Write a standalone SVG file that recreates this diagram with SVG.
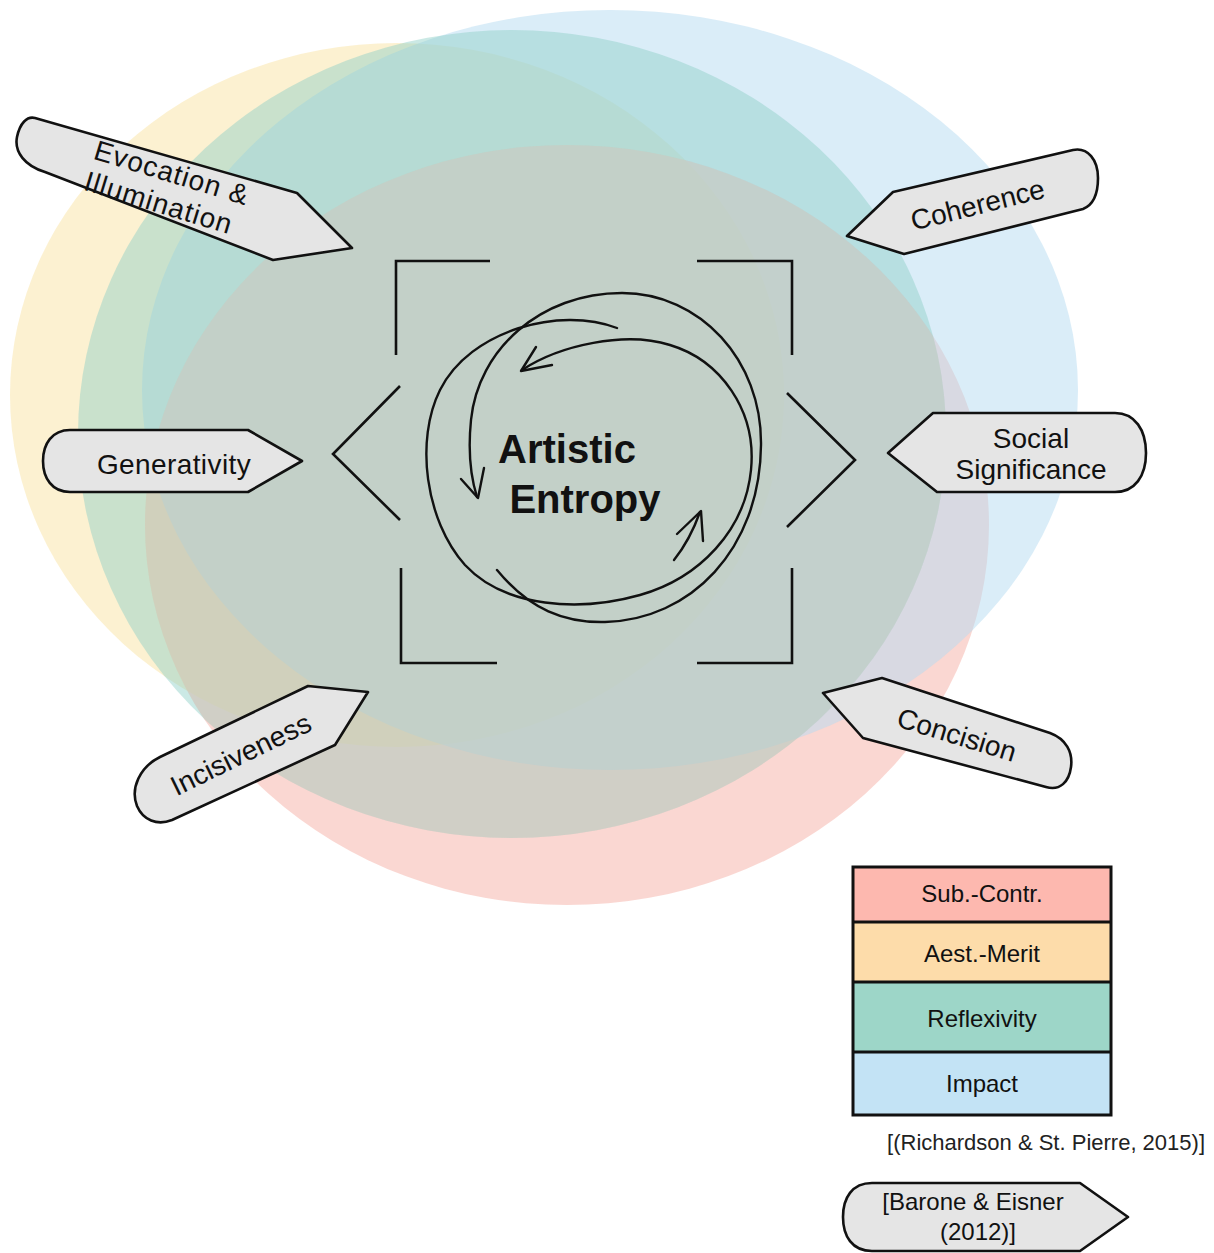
<svg xmlns="http://www.w3.org/2000/svg" width="1214" height="1253" viewBox="0 0 1214 1253">
<defs>
<style>
.node{fill:#e5e5e5;stroke:#111;stroke-width:2.6;stroke-linejoin:round}
.lbl{font-family:"Liberation Sans",Arial,sans-serif;font-size:28px;fill:#111;text-anchor:middle}
.leg{font-family:"Liberation Sans",Arial,sans-serif;font-size:24px;fill:#111;text-anchor:middle}
.ln{fill:none;stroke:#111;stroke-width:2.6;stroke-linecap:butt;stroke-linejoin:miter}
.cyc{fill:none;stroke:#111;stroke-width:2.4;stroke-linecap:round;stroke-linejoin:round}
</style>
<clipPath id="tealClip"><ellipse cx="512" cy="434" rx="434" ry="404"/></clipPath>
</defs>
<rect width="1214" height="1253" fill="#ffffff"/>
<g id="venn">
<ellipse id="sub-contr" cx="567" cy="525" rx="422" ry="380" fill="#f4a79b" fill-opacity="0.45"/>
<ellipse id="aest-merit" cx="397" cy="395" rx="387" ry="352" fill="#f9df9a" fill-opacity="0.45"/>
<ellipse id="impact" cx="610" cy="390" rx="468" ry="380" fill="#b5dbf2" fill-opacity="0.5"/>
<ellipse id="reflexivity" cx="512" cy="434" rx="434" ry="404" fill="#8ccfc6" fill-opacity="0.45"/>
<ellipse cx="567" cy="525" rx="422" ry="380" fill="#e6c6bb" fill-opacity="0.3" clip-path="url(#tealClip)"/>
</g>
<g id="center">
<path class="ln" d="M396,355 V261 H490"/>
<path class="ln" d="M697,261 H792 V355"/>
<path class="ln" d="M401,568 V663 H497"/>
<path class="ln" d="M697,663 H792 V568"/>
<path class="ln" d="M400,386 L333,454 L400,520"/>
<path class="ln" d="M787,393 L855,460 L787,527"/>
<path class="cyc" d="M617,328 C560,306 470,330 440,390 C415,440 425,520 465,565 C505,608 580,612 640,595 C700,578 745,530 751,470 C757,410 720,360 670,345 C625,331 560,345 522,370"/>
<path class="cyc" d="M536,347 L521,371 L552,365"/>
<path class="cyc" d="M497,570 C530,610 565,623 605,622 C690,620 760,550 761,445 C762,360 700,293 622,293 C540,293 478,350 471,420 C468,450 470,475 477,497"/>
<path class="cyc" d="M461,479 L478,498 L484,468"/>
<path class="cyc" d="M674,560 Q690,540 700,512"/>
<path class="cyc" d="M677,534 L701,511 L703,541"/>
<text x="567" y="463" font-family="Liberation Sans,Arial,sans-serif" font-size="40" font-weight="bold" fill="#111" text-anchor="middle">Artistic</text>
<text x="585" y="513" font-family="Liberation Sans,Arial,sans-serif" font-size="40" font-weight="bold" fill="#111" text-anchor="middle">Entropy</text>
</g>
<g id="evocation">
<path class="node" d="M35,118 L297,193 L352,248 L273,260 L45,172 C25,166 14,152 17,137 C20,123 27,116 35,118 Z"/>
<text class="lbl" x="169" y="182" font-size="26" letter-spacing="1" transform="rotate(17 169 182)">Evocation &amp;</text>
<text class="lbl" x="156" y="212" font-size="26" letter-spacing="1" transform="rotate(17 156 212)">Illumination</text>
</g>
<g id="generativity">
<path class="node" d="M70,430 L248,430 L302,461 L248,492 L70,492 C52,492 43,478 43,461 C43,444 52,430 70,430 Z"/>
<text class="lbl" x="174" y="474" letter-spacing="0.4">Generativity</text>
</g>
<g id="incisiveness">
<path class="node" d="M368,692 L308,686 L160,757 C140,767 130,788 137,806 C143,820 157,826 172,820 L335,745 Z"/>
<text class="lbl" x="245" y="763" transform="rotate(-26 245 763)">Incisiveness</text>
</g>
<g id="coherence">
<path class="node" d="M847,236 L893,192 L1073,150 C1088,147 1098,160 1098,178 C1098,195 1093,205 1083,209 L904,254 Z"/>
<text class="lbl" x="980" y="214" transform="rotate(-14 980 214)">Coherence</text>
</g>
<g id="social-significance">
<path class="node" d="M888,453 L933,413 L1115,413 C1135,413 1146,430 1146,453 C1146,476 1135,492 1115,492 L937,492 Z"/>
<text class="lbl" x="1031" y="448">Social</text>
<text class="lbl" x="1031" y="479">Significance</text>
</g>
<g id="concision">
<path class="node" d="M823,693 L882,678 L1050,733 C1066,739 1073,752 1071,767 C1069,782 1060,791 1046,787 L863,738 Z"/>
<text class="lbl" x="954" y="744" transform="rotate(17 954 744)">Concision</text>
</g>
<g id="legend">
<rect x="853" y="867" width="258" height="55" fill="#fdb8af"/>
<rect x="853" y="922" width="258" height="60" fill="#fddcaa"/>
<rect x="853" y="982" width="258" height="70" fill="#9dd6c8"/>
<rect x="853" y="1052" width="258" height="63" fill="#c3e3f5"/>
<path d="M853,867 H1111 V1115 H853 Z M853,922 H1111 M853,982 H1111 M853,1052 H1111" fill="none" stroke="#111" stroke-width="3"/>
<text class="leg" x="982" y="902">Sub.-Contr.</text>
<text class="leg" x="982" y="962">Aest.-Merit</text>
<text class="leg" x="982" y="1027">Reflexivity</text>
<text class="leg" x="982" y="1092">Impact</text>
</g>
<g id="citation">
<text x="1205" y="1150" font-family="Liberation Sans,Arial,sans-serif" font-size="22" fill="#222" text-anchor="end">[(Richardson &amp; St. Pierre, 2015)]</text>
</g>
<g id="barone">
<path class="node" d="M872,1183 L1080,1183 L1128,1217 L1080,1251 L872,1251 C852,1251 843,1236 843,1217 C843,1198 852,1183 872,1183 Z"/>
<text class="leg" x="973" y="1210" font-size="25">[Barone &amp; Eisner</text>
<text class="leg" x="978" y="1240" font-size="25">(2012)]</text>
</g>
</svg>
